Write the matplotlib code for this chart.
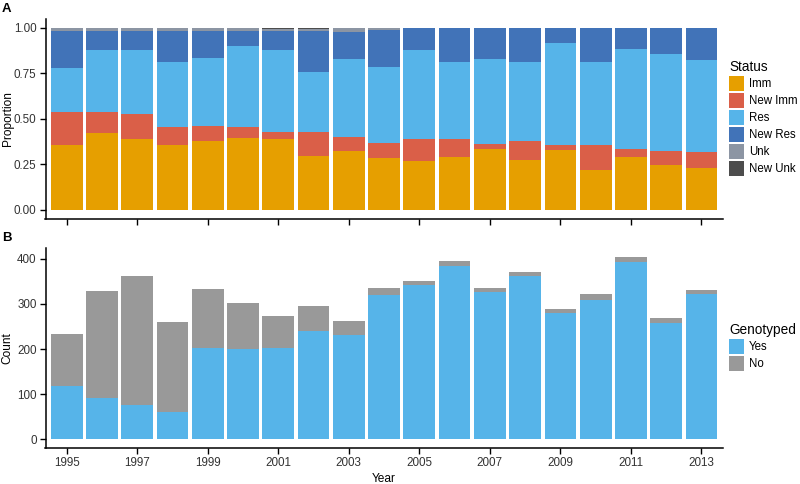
import matplotlib
matplotlib.use('Agg')
import matplotlib.pyplot as plt
import numpy as np

plt.rcParams['font.family'] = ['Liberation Sans', 'DejaVu Sans']

years = list(range(1995, 2014))

# Panel A: cumulative tops (proportion)
imm_top = [0.356, 0.424, 0.391, 0.355, 0.378, 0.397, 0.391, 0.296, 0.325, 0.283,
           0.271, 0.293, 0.336, 0.272, 0.327, 0.219, 0.289, 0.245, 0.229]
newimm_top = [0.539, 0.536, 0.525, 0.457, 0.461, 0.455, 0.428, 0.426, 0.399, 0.369,
              0.389, 0.391, 0.362, 0.380, 0.356, 0.355, 0.336, 0.322, 0.320]
res_top = [0.781, 0.877, 0.877, 0.814, 0.834, 0.898, 0.877, 0.757, 0.826, 0.784,
           0.877, 0.810, 0.826, 0.814, 0.914, 0.814, 0.881, 0.857, 0.823]
newres_top = [0.982, 0.982, 0.982, 0.982, 0.982, 0.982, 0.982, 0.984, 0.974, 0.987,
              1.0, 1.0, 1.0, 1.0, 1.0, 1.0, 1.0, 1.0, 1.0]
newunk = [0.0, 0.0, 0.0, 0.0, 0.0, 0.0, 0.006, 0.006, 0.0, 0.004,
          0, 0, 0, 0, 0, 0, 0, 0, 0]

status_labels = ['Imm', 'New Imm', 'Res', 'New Res', 'Unk', 'New Unk']
status_colors = ['#E69F00', '#DA5F48', '#56B4E9', '#4173B8', '#8C95A3', '#4D4D4D']

# Panel B: counts
total = [234, 329, 362, 260, 333, 302, 274, 296, 263, 335,
         350, 396, 336, 371, 288, 322, 404, 270, 332]
yes = [118, 92, 75, 61, 202, 200, 202, 239, 231, 319,
       341, 384, 327, 362, 279, 309, 393, 257, 323]
geno_labels = ['Yes', 'No']
geno_colors = ['#56B4E9', '#999999']

imm = np.array(imm_top)
nimm = np.array(newimm_top) - imm
res = np.array(res_top) - np.array(newimm_top)
nres = np.array(newres_top) - np.array(res_top)
nunk = np.array(newunk)
unk = 1.0 - np.array(newres_top) - nunk
segments = [imm, nimm, res, nres, unk, nunk]

W, H = 800, 484
fig = plt.figure(figsize=(8, 4.84), dpi=100)
left, right = 45.5 / W, 722.6 / W
ax1 = fig.add_axes([left, 1 - 219 / H, right - left, (219 - 18.6) / H])
ax2 = fig.add_axes([left, 1 - 448.3 / H, right - left, (448.3 - 248) / H])

bottom = np.zeros(len(years))
for seg, lbl, col in zip(segments, status_labels, status_colors):
    ax1.bar(years, seg, bottom=bottom, width=0.9, color=col, label=lbl, linewidth=0)
    bottom += seg

no = np.array(total) - np.array(yes)
ax2.bar(years, yes, width=0.9, color=geno_colors[0], label=geno_labels[0], linewidth=0)
ax2.bar(years, no, bottom=yes, width=0.9, color=geno_colors[1], label=geno_labels[1],
        linewidth=0)

for ax in (ax1, ax2):
    ax.set_xlim(1994.4, 2013.6)
    ax.spines['top'].set_visible(False)
    ax.spines['right'].set_visible(False)
    ax.spines['left'].set_linewidth(1.1)
    ax.spines['bottom'].set_linewidth(1.1)
    ax.tick_params(direction='out', length=4, width=1.0, labelsize=8.4,
                   pad=2.4, colors='black', labelcolor='#333333')
    ax.set_xticks(range(1995, 2014, 2))

ax1.set_ylim(-0.05, 1.05)
ax1.set_yticks([0, 0.25, 0.5, 0.75, 1.0])
ax1.set_yticklabels(['0.00', '0.25', '0.50', '0.75', '1.00'])
ax1.set_xticklabels([])
ax1.set_ylabel('Proportion', fontsize=8.6)
ax1.yaxis.set_label_coords(-0.047, 0.5)

ax2.set_ylim(-20.2, 424.2)
ax2.set_yticks([0, 100, 200, 300, 400])
ax2.set_ylabel('Count', fontsize=8.6)
ax2.yaxis.set_label_coords(-0.047, 0.5)
ax2.set_xlabel('Year', fontsize=8.6)
ax2.xaxis.set_label_coords(0.5, -0.122)

leg_kw = dict(loc='center left', frameon=False, fontsize=8.3, title_fontsize=9.8,
              handlelength=1.3, handleheight=1.625, handletextpad=0.43,
              labelspacing=0.17, borderpad=0, borderaxespad=0)
h1, l1 = ax1.get_legend_handles_labels()
leg1 = fig.legend(h1, l1, title='Status', bbox_to_anchor=(729 / W, 1 - 118 / H), **leg_kw)
leg1._legend_box.align = 'left'
h2, l2 = ax2.get_legend_handles_labels()
leg2 = fig.legend(h2, l2, title='Genotyped', bbox_to_anchor=(729 / W, 1 - 347 / H), **leg_kw)
leg2._legend_box.align = 'left'

fig.text(2 / W, 1 - 8.5 / H, 'A', fontsize=9.5, fontweight='bold', va='center')
fig.text(2 / W, 1 - 238 / H, 'B', fontsize=9.5, fontweight='bold', va='center')

fig.savefig('out.png', dpi=100)
